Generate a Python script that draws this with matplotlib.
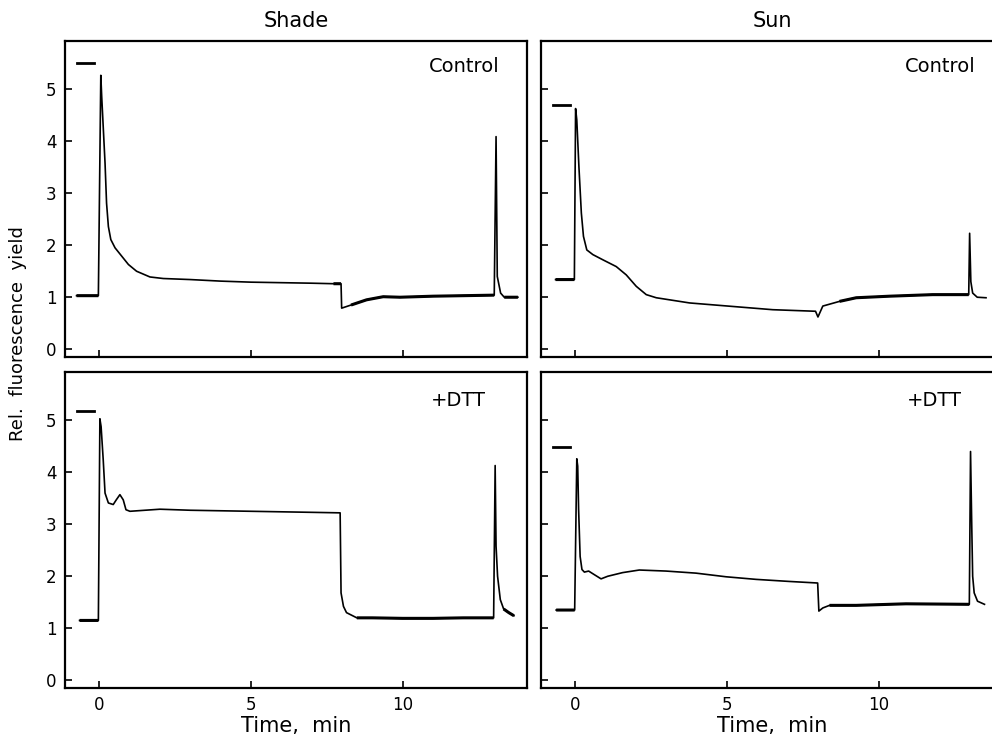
import numpy as np
import matplotlib
matplotlib.use("Agg")
import matplotlib.pyplot as plt

# traces: time (min) and relative fluorescence yield
shade_ctrl_t = [-0.75, -0.03, 0.05, 0.08, 0.19, 0.24, 0.30, 0.38, 0.52, 0.74, 0.96, 1.23, 1.67, 2.11,
                3.0, 4.0, 5.0, 6.0, 7.0, 7.72, 7.97, 7.99, 8.3, 8.81, 9.36, 9.91, 11.0, 12.0, 13.02,
                13.08, 13.12, 13.23, 13.35, 13.8]
shade_ctrl_y = [1.03, 1.03, 5.27, 4.86, 3.58, 2.81, 2.36, 2.11, 1.95, 1.79, 1.63, 1.50, 1.39, 1.36,
                1.34, 1.31, 1.29, 1.28, 1.27, 1.26, 1.26, 0.79, 0.85, 0.95, 1.01, 1.00, 1.02, 1.03, 1.04,
                4.09, 1.40, 1.08, 1.00, 1.00]

sun_ctrl_t = [-0.65, -0.03, 0.01, 0.05, 0.12, 0.20, 0.27, 0.38, 0.58, 0.91, 1.35, 1.68, 2.01, 2.34,
              2.67, 3.77, 5.03, 6.51, 7.92, 8.0, 8.16, 8.71, 9.26, 10.36, 11.78, 12.97, 13.0,
              13.04, 13.1, 13.25, 13.54]
sun_ctrl_y = [1.34, 1.34, 4.63, 4.41, 3.51, 2.62, 2.17, 1.91, 1.82, 1.72, 1.59, 1.43, 1.21, 1.05,
              0.99, 0.89, 0.83, 0.76, 0.73, 0.62, 0.83, 0.92, 0.99, 1.02, 1.05, 1.05, 2.23,
              1.30, 1.08, 1.00, 0.99]

shade_dtt_t = [-0.65, -0.03, 0.02, 0.06, 0.13, 0.19, 0.30, 0.46, 0.56, 0.68, 0.79, 0.88, 1.01, 2.0,
               3.0, 4.0, 5.0, 6.0, 7.0, 7.94, 7.97, 8.05, 8.15, 8.49, 9.0, 10.0, 11.0, 12.0, 13.0,
               13.05, 13.08, 13.13, 13.22, 13.33, 13.5, 13.67]
shade_dtt_y = [1.15, 1.15, 5.03, 4.88, 4.24, 3.60, 3.41, 3.38, 3.47, 3.57, 3.47, 3.28, 3.25, 3.29,
               3.27, 3.26, 3.25, 3.24, 3.23, 3.22, 1.68, 1.42, 1.30, 1.20, 1.20, 1.19, 1.19, 1.20, 1.20,
               4.13, 2.58, 2.0, 1.55, 1.37, 1.30, 1.24]

sun_dtt_t = [-0.63, -0.02, 0.05, 0.08, 0.11, 0.16, 0.22, 0.30, 0.44, 0.63, 0.85, 1.07, 1.56, 2.11,
             2.99, 3.98, 4.97, 5.96, 7.06, 7.99, 8.03, 8.16, 8.38, 9.26, 10.9, 12.99, 13.03,
             13.07, 13.1, 13.15, 13.26, 13.49]
sun_dtt_y = [1.35, 1.35, 4.26, 4.12, 3.28, 2.38, 2.13, 2.08, 2.10, 2.03, 1.95, 2.0, 2.07, 2.12,
             2.10, 2.06, 1.99, 1.94, 1.90, 1.87, 1.33, 1.39, 1.44, 1.44, 1.47, 1.46, 4.40,
             2.96, 2.0, 1.68, 1.52, 1.46]

# short horizontal marker bars in the upper-left corner of each panel
bar_x = [-0.74, -0.18]
bar_y = [5.50, 4.70, 5.17, 4.49]

col_titles = ["Shade", "Sun"]
row_labels = ["Control", "+DTT"]
xticks = [0, 5, 10]
yticks = [0, 1, 2, 3, 4, 5]

traces = [(shade_ctrl_t, shade_ctrl_y), (sun_ctrl_t, sun_ctrl_y),
          (shade_dtt_t, shade_dtt_y), (sun_dtt_t, sun_dtt_y)]

plt.rcParams['font.family'] = ['DejaVu Sans']
fig = plt.figure(figsize=(9.92, 7.36), dpi=100)

W, H = 992.0, 736.0
lefts = [65, 541]
tops = [41, 372]
pw, ph = 462, 316

for k, (t, y) in enumerate(traces):
    r, c = divmod(k, 2)
    ax = fig.add_axes([lefts[c] / W, 1 - (tops[r] + ph) / H, pw / W, ph / H])
    t = np.array(t)
    y = np.array(y)
    ax.plot(t, y, color='black', lw=1.2)
    # baseline stretches are noisy in the original, draw them heavier
    noisy = (t < 0) | ((t > 8.2) & (t <= 13.02) & (y < 1.6)) | (t > 13.3)
    if k == 0:
        noisy |= (t > 7.7) & (t < 7.98)
    ax.plot(t, np.where(noisy, y, np.nan), color='black', lw=2.2, solid_capstyle='butt')
    ax.plot(bar_x, [bar_y[k]] * 2, color='black', lw=2)

    ax.set_xlim(-1.13, 14.1)
    ax.set_ylim(-0.15, 5.93)
    ax.set_xticks(xticks)
    ax.set_yticks(yticks)
    ax.tick_params(direction='in', length=5, width=1.2, labelsize=12, pad=6)
    for s in ax.spines.values():
        s.set_linewidth(1.6)
    if c == 1:
        ax.tick_params(labelleft=False)
    if r == 0:
        ax.tick_params(labelbottom=False)
        ax.set_title(col_titles[c], fontsize=15, pad=10)
        ax.text(0.94, 0.92, row_labels[r], transform=ax.transAxes, ha='right', va='center', fontsize=14)
    else:
        ax.set_xlabel("Time,  min", fontsize=15, labelpad=1)
        ax.text(0.91, 0.91, row_labels[r], transform=ax.transAxes, ha='right', va='center', fontsize=14)

fig.text(18 / W, 1 - 334 / H, "Rel.  fluorescence  yield", rotation=90, ha='center', va='center', fontsize=13)

fig.savefig("out.png", dpi=100)
